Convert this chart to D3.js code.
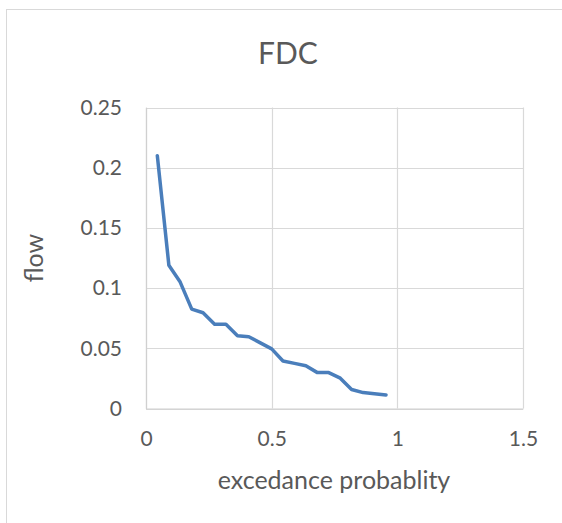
<!DOCTYPE html>
<html>
<head>
<meta charset="utf-8">
<script src="https://cdn.jsdelivr.net/npm/d3@7"></script>
<style>
  html, body { margin: 0; padding: 0; background: #fff; }
  svg { display: block; }
  text { font-family: Lato, "Open Sans", sans-serif; fill: #595959; }
</style>
</head>
<body>
<svg id="chart" width="562" height="523"></svg>
<script>
// Flow duration curve: exceedance probability vs flow
const exceedance = [0.045, 0.091, 0.136, 0.182, 0.227, 0.273, 0.318, 0.364, 0.409, 0.455, 0.5,
                    0.545, 0.591, 0.636, 0.682, 0.727, 0.773, 0.818, 0.864, 0.909, 0.955];
const flow = [0.21, 0.119, 0.105, 0.0825, 0.0795, 0.07, 0.07, 0.0605, 0.0596, 0.0545, 0.0495,
              0.0395, 0.0375, 0.0355, 0.0298, 0.0298, 0.0252, 0.0158, 0.0132, 0.0123, 0.0113];
const xTicks = [0, 0.5, 1, 1.5];
const yTicks = [0, 0.05, 0.1, 0.15, 0.2, 0.25];

const svg = d3.select("#chart");
const plot = { left: 146, right: 523, top: 107.5, bottom: 408.5 };

// chart frame
svg.append("rect")
  .attr("x", 6.5).attr("y", 9.5)
  .attr("width", 620).attr("height", 620)
  .attr("fill", "#fff").attr("stroke", "#d9d9d9").attr("stroke-width", 1);

const x = d3.scaleLinear().domain([0, 1.5]).range([plot.left, plot.right]);
const y = d3.scaleLinear().domain([0, 0.25]).range([plot.bottom, plot.top]);

// gridlines
const grid = svg.append("g").attr("stroke", "#d9d9d9").attr("stroke-width", 1.2);
grid.selectAll("line.h").data(yTicks).join("line")
  .attr("x1", plot.left).attr("x2", plot.right)
  .attr("y1", d => Math.round(y(d)) + 0.5).attr("y2", d => Math.round(y(d)) + 0.5);
grid.selectAll("line.v").data(xTicks).join("line")
  .attr("y1", plot.top).attr("y2", plot.bottom)
  .attr("x1", d => Math.round(x(d)) + 0.5).attr("x2", d => Math.round(x(d)) + 0.5);

// axes (labels only, lines styled as gridlines)
const xAxis = svg.append("g")
  .attr("transform", `translate(0,${plot.bottom})`)
  .call(d3.axisBottom(x).tickValues(xTicks).tickSize(0).tickPadding(23).tickFormat(d3.format("")));
const yAxis = svg.append("g")
  .attr("transform", `translate(${plot.left},0)`)
  .call(d3.axisLeft(y).tickValues(yTicks).tickSize(0).tickPadding(24).tickFormat(d3.format("")));
[xAxis, yAxis].forEach(a => {
  a.select(".domain").attr("stroke", "#d0d0d0").attr("stroke-width", 1.2);
  a.selectAll("text").style("font-family", "Lato, 'Open Sans', sans-serif")
    .style("font-size", "21px").attr("fill", "#595959");
});

// series line
const line = d3.line().x((d, i) => x(exceedance[i])).y(d => y(d));
svg.append("path")
  .datum(flow)
  .attr("d", line)
  .attr("fill", "none")
  .attr("stroke", "#4a7ebb")
  .attr("stroke-width", 3.5)
  .attr("stroke-linejoin", "round")
  .attr("stroke-linecap", "round");

// titles
svg.append("text")
  .attr("x", 288).attr("y", 64)
  .attr("text-anchor", "middle")
  .style("font-size", "30px")
  .text("FDC");

svg.append("text")
  .attr("x", 334).attr("y", 489)
  .attr("text-anchor", "middle")
  .style("font-size", "25px")
  .text("excedance probablity");

svg.append("text")
  .attr("transform", "translate(43,258) rotate(-90)")
  .attr("text-anchor", "middle")
  .style("font-size", "25px")
  .text("flow");
</script>
</body>
</html>
